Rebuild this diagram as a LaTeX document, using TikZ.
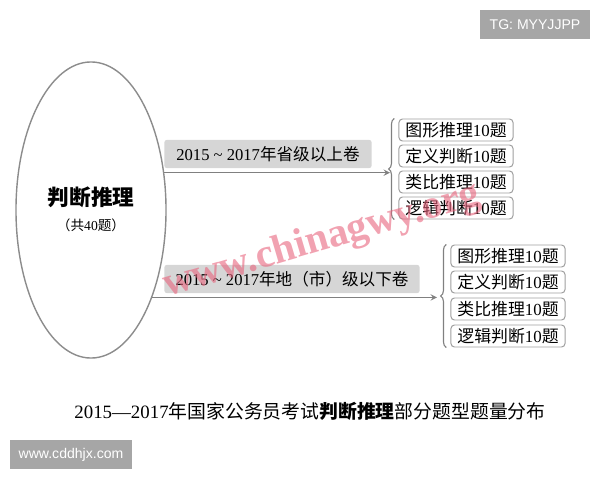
\documentclass[tikz,border=0pt]{standalone}
\usepackage{fontspec}
\setmainfont{Liberation Serif}
\newfontfamily\cjk{Noto Sans CJK SC}
\newfontfamily\tagfont{Liberation Sans}
\usepackage{tikz}
\usetikzlibrary{arrows,positioning,shapes,calc,decorations.pathreplacing}
\newcommand{\zh}[1]{{\cjk #1}}
\definecolor{wmred}{RGB}{232,100,125}

\tikzset{
  topic/.style={fill=black!16, rounded corners=1.5pt, inner xsep=5pt, minimum height=0.7cm, font=\fontsize{11.8}{13}\selectfont},
  qbox/.style={draw=gray!75, fill=white, rounded corners=2.5pt, line width=0.7pt, minimum width=2.85cm, minimum height=0.55cm, inner sep=0pt, font=\fontsize{12}{13}\selectfont},
  flow/.style={draw=gray, line width=1pt, -stealth},
  tag/.style={fill=black!35, text=white, inner sep=0pt, minimum height=0.725cm, font=\tagfont\fontsize{10}{12}\selectfont}
}

\begin{document}
\begin{tikzpicture}[x=0.025cm,y=-0.025cm]
    \useasboundingbox (0,0) rectangle (600,480);

    % Ellipse with the topic
    \node[ellipse, draw=gray!90, line width=1pt, minimum width=3.75cm, minimum height=7.4cm, inner sep=0pt] (judge) at (91,210) {};
    \node[font=\fontsize{15.4}{17}\selectfont\bfseries] (title) at (91,197) {\zh{判断推理}};
    \node[font=\fontsize{9.7}{11}\selectfont] (count) at (91,225) {\zh{（共}40\zh{题）}};

    % Provincial papers
    \node[qbox] (pa) at (456,130) {\zh{图形推理}10\zh{题}};
    \node[qbox] (pb) at (456,156) {\zh{定义判断}10\zh{题}};
    \node[qbox] (pc) at (456,182) {\zh{类比推理}10\zh{题}};
    \node[qbox] (pd) at (456,208) {\zh{逻辑判断}10\zh{题}};
    \draw[gray, line width=0.8pt, decorate, decoration={brace, amplitude=4pt}]
        ([xshift=-3pt]pd.south west) -- ([xshift=-3pt]pa.north west);
    \coordinate (tipa) at (390,172);
    \draw[flow] (judge.27.7) -- (judge.27.7 -| tipa);
    \node[topic, minimum width=5.175cm] (prov) at (268,154) {2015 {\textasciitilde} 2017\zh{年省级以上卷}};

    % City papers
    \node[qbox] (ca) at (508,256) {\zh{图形推理}10\zh{题}};
    \node[qbox] (cb) at (508,282) {\zh{定义判断}10\zh{题}};
    \node[qbox] (cc) at (508,309) {\zh{类比推理}10\zh{题}};
    \node[qbox] (cd) at (508,336) {\zh{逻辑判断}10\zh{题}};
    \draw[gray, line width=0.8pt, decorate, decoration={brace, amplitude=4pt}]
        ([xshift=-3pt]cd.south west) -- ([xshift=-3pt]ca.north west);
    \coordinate (tipc) at (437,298);
    \draw[flow] (judge.-55.6) -- (judge.-55.6 -| tipc);
    \node[topic, minimum width=6.375cm] (city) at (292,279) {2015 {\textasciitilde} 2017\zh{年地（市）级以下卷}};

    % Caption
    \node[font=\fontsize{13.4}{15}\selectfont] (caption) at (310,411)
        {2015---2017\zh{年国家公务员考试}{\cjk\bfseries 判断推理}\zh{部分题型题量分布}};

    % Tags
    \node[tag, minimum width=2.75cm] (tg) at (535,24.5) {TG: MYYJJPP};
    \node[tag, minimum width=3.05cm] (site) at (71,454.5) {www.cddhjx.com};
    \node[rotate=16.4, text=wmred, opacity=0.6, font=\fontsize{29}{29}\selectfont\bfseries] (mark) at (322,241) {www.chinagwy.org};
\end{tikzpicture}
\end{document}
